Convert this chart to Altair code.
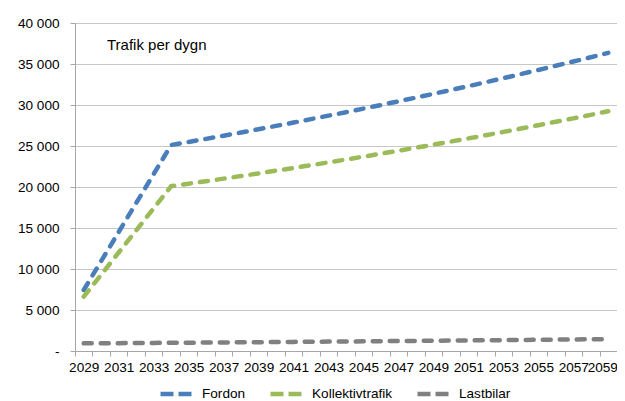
import altair as alt
import pandas as pd

years = list(range(2029, 2060))

fordon = [7440, 10980, 14510, 18050, 21580, 25120, 25490, 25870, 26260, 26650,
          27050, 27450, 27860, 28280, 28700, 29120, 29560, 30000, 30450, 30900,
          31360, 31830, 32300, 32780, 33270, 33770, 34270, 34780, 35300, 35820,
          36360]
kollektivtrafik = [6620, 9320, 12010, 14710, 17400, 20100, 20400, 20710, 21020, 21340,
                   21660, 21990, 22320, 22660, 23000, 23350, 23700, 24060, 24420, 24790,
                   25170, 25550, 25930, 26320, 26720, 27130, 27540, 27950, 28370, 28800,
                   29240]
lastbilar = [930, 944, 958, 972, 987, 1002, 1017, 1032, 1048, 1063,
             1079, 1095, 1112, 1128, 1145, 1163, 1180, 1198, 1216, 1234,
             1253, 1271, 1291, 1310, 1330, 1350, 1370, 1390, 1411, 1432,
             1454]

series_names = ["Fordon", "Kollektivtrafik", "Lastbilar"]
series_colors = ["#4a7ebb", "#9bbb59", "#808080"]
y_ticks = [0, 5000, 10000, 15000, 20000, 25000, 30000, 35000, 40000]
annotation = "Trafik per dygn"

rows = []
for name, vals in zip(series_names, [fordon, kollektivtrafik, lastbilar]):
    for yr, v in zip(years, vals):
        rows.append({"year": yr, "value": v, "series": name})
df = pd.DataFrame(rows)

FONT = "Liberation Sans"
FS = 13.6

lines = alt.Chart(df).mark_line(
    strokeWidth=4.5, strokeDash=[8, 9], strokeCap="round"
).encode(
    x=alt.X("year:O", title=None,
            scale=alt.Scale(type="band", paddingInner=0, paddingOuter=0),
            axis=alt.Axis(labelAngle=0, tickBand="extent", labelOverlap=False,
                          labelExpr="(datum.value - 2029) % 2 == 0 ? datum.label : ''",
                          labelOffset={"condition": {"test": "datum.value == 2059", "value": -6}, "value": 0},
                          domainColor="#a6a6a6", tickColor="#a6a6a6", tickSize=5,
                          labelPadding=4, labelFont=FONT, labelFontSize=FS,
                          labelColor="#000000", grid=False)),
    y=alt.Y("value:Q", title=None,
            scale=alt.Scale(domain=[0, 40000], nice=False),
            axis=alt.Axis(values=y_ticks, grid=True, gridColor="#c6c6c6",
                          domainColor="#a6a6a6", tickColor="#a6a6a6", tickSize=5,
                          labelPadding=11, labelFont=FONT, labelFontSize=FS,
                          labelColor="#000000",
                          labelExpr="datum.value == 0 ? '-\u00a0\u00a0' : replace(format(datum.value, ','), ',', ' ')")),
    color=alt.Color("series:N",
                    scale=alt.Scale(domain=series_names, range=series_colors),
                    legend=alt.Legend(title=None, orient="none", direction="horizontal",
                                      legendX=83, legendY=353, padding=0,
                                      symbolType="stroke", symbolSize=961,
                                      symbolStrokeWidth=4.5, symbolDash=[13, 5],
                                      labelOffset=8, columnPadding=15,
                                      labelFont=FONT, labelFontSize=FS,
                                      labelColor="#000000")),
    order=alt.Order("series:N"),
)

text = alt.Chart(pd.DataFrame({"t": [annotation]})).mark_text(
    align="left", baseline="middle", font=FONT, fontSize=15, color="#000000"
).encode(text="t:N", x=alt.value(32), y=alt.value(22))

chart = alt.layer(lines, text).properties(
    width=542, height=328,
    padding={"left": 67, "top": 15, "right": 0, "bottom": 50},
    autosize=alt.AutoSizeParams(type="none"),
).configure_view(stroke=None)

chart.save("out.html", embed_options={"renderer": "svg", "actions": False})
